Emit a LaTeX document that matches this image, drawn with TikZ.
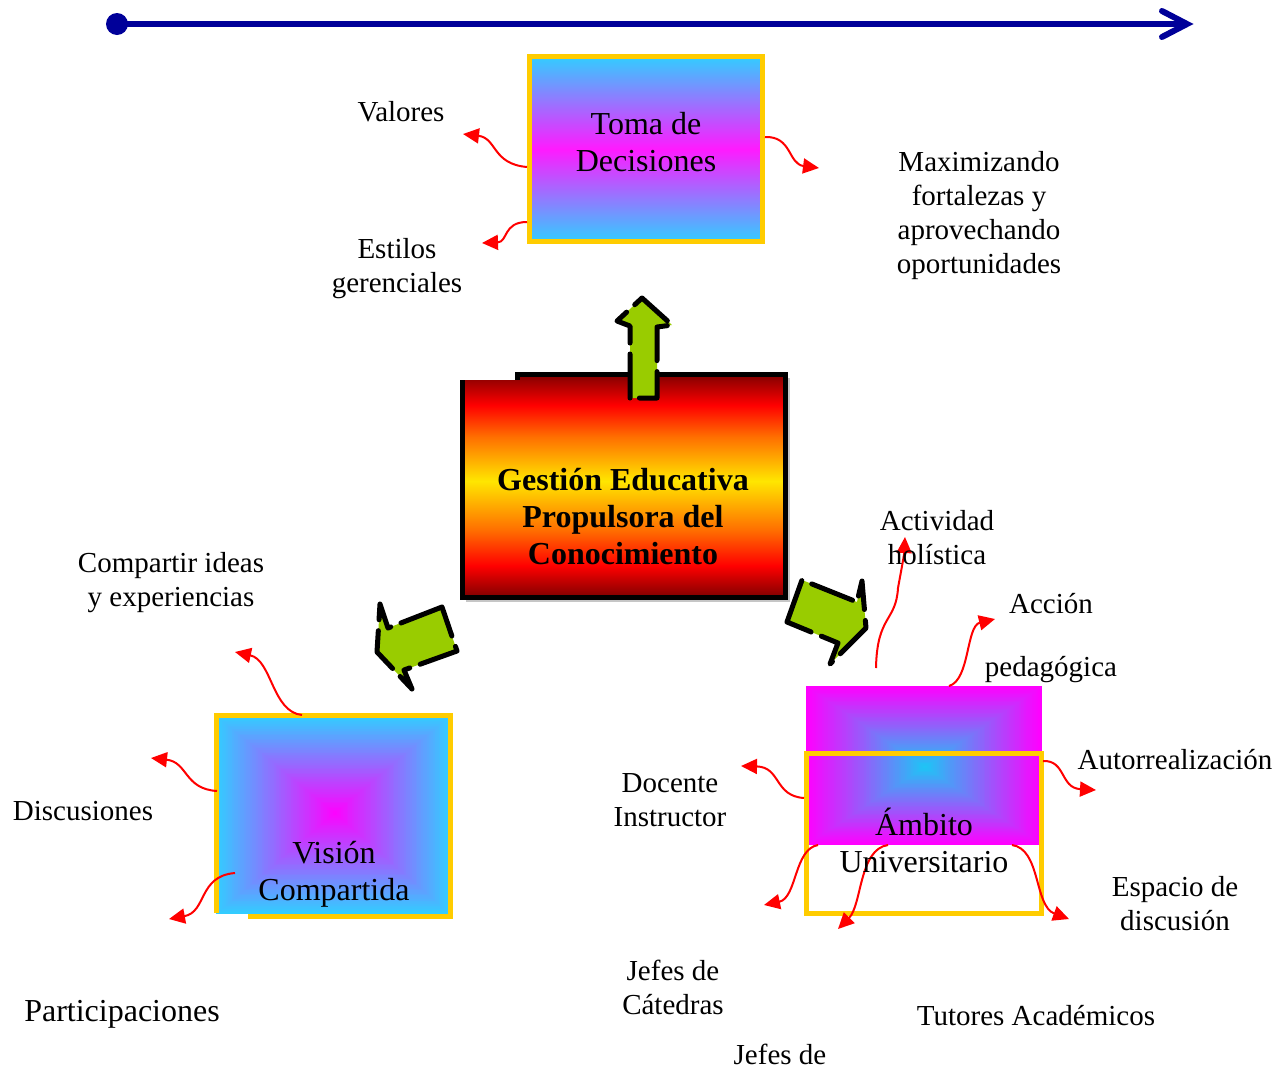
\documentclass[tikz,border=0pt]{standalone}
\usepackage{fontspec}
\setmainfont{Liberation Serif}
\usetikzlibrary{arrows.meta}

\definecolor{navyline}{RGB}{0,0,153}
\definecolor{gold}{RGB}{255,204,0}
\definecolor{skyc}{RGB}{51,204,255}
\definecolor{skyd}{RGB}{26,200,245}
\definecolor{magc}{RGB}{255,0,255}
\definecolor{magt}{RGB}{255,26,255}
\definecolor{leaf}{RGB}{153,204,0}
\definecolor{dkred}{RGB}{128,0,0}
\definecolor{flame}{RGB}{255,0,0}
\definecolor{amber}{RGB}{255,110,0}
\definecolor{sun}{RGB}{255,230,0}

% warm stripes of the central box: dark red - red - orange - yellow - ... - dark red
% (TikZ fits the middle 50bp of a 100bp shading to the path)
\pgfdeclareverticalshading{gestionshade}{100bp}{%
  color(0bp)=(dkred); color(25bp)=(dkred); color(32bp)=(flame); color(40bp)=(amber);
  color(51bp)=(sun); color(61bp)=(amber); color(68bp)=(flame);
  color(75bp)=(dkred); color(100bp)=(dkred)}

\tikzset{
  lbl/.style={font=\fontsize{29}{34}\selectfont, align=center, inner sep=0pt},
  big/.style={font=\fontsize{32}{37}\selectfont, align=center, inner sep=0pt},
  wavy/.style={draw=red, line width=2pt, -{Triangle[length=16pt,width=15pt]}},
  greenarrow/.style={fill=leaf, draw=black, line width=5pt, line cap=round,
    line join=round, dash pattern=on 44pt off 11pt},
  goldframe/.style={draw=gold, line width=5pt},
}

\begin{document}
\begin{tikzpicture}[x=1pt,y=-1pt]
\useasboundingbox[fill=white] (0,0) rectangle (1286,1069);

% ---------- time line ----------
\coordinate (tl0) at (117,24);
\coordinate (tl1) at (1187,24);
\draw[navyline, line width=6pt] (tl0) -- (tl1);
\fill[navyline] (tl0) circle (11);
\draw[navyline, line width=6pt, line cap=round, line join=miter]
  (1162,11) -- (tl1) -- (1162,37);

% ---------- Toma de Decisiones ----------
\fill[top color=skyc, bottom color=skyc, middle color=magt] (530,57) rectangle (762,241);
\draw[goldframe] (529.5,56.5) rectangle (762.5,241.5);

% ---------- central box ----------
\fill[shading=gestionshade] (462,380) -- (517,380) -- (517,374) -- (785,374)
  -- (785,597) -- (462,597) -- cycle;
\draw[gray!45, line width=2pt] (466,600.5) -- (788.5,600.5) -- (788.5,378);
\draw[black, line width=5pt, line join=miter] (462,380) -- (462,597) -- (785,597)
  -- (785,374) -- (517,374) -- (517,380);

% ---------- green arrows ----------
\draw[greenarrow] (630,398) -- (630,326) -- (617,321) -- (642,298) -- (672,325)
  -- (657,327) -- (657,398) -- cycle;
\draw[greenarrow] (442,607) -- (388,628) -- (380,604) -- (377,652) -- (412,689)
  -- (404,670) -- (457,651) -- cycle;
\draw[greenarrow] (787,622) -- (802,580) -- (857,602) -- (862,581) -- (866,628)
  -- (830,664) -- (838,643) -- cycle;

% ---------- Vision Compartida: pyramid gradient ----------
\foreach \i in {0,...,60}{
  \pgfmathsetmacro\t{\i/60}
  \pgfmathtruncatemacro\p{100*\i/60}
  \fill[magc!\p!skyc] ({216+\t*(335-216)},{716+\t*(813-716)})
    rectangle ({450-\t*(450-335)},{914-\t*(914-813)});
}
\draw[goldframe, line join=miter] (248,916.5) -- (450.5,916.5) -- (450.5,715.5)
  -- (216.5,715.5) -- (216.5,913);

% ---------- Ambito Universitario: pyramid gradient ----------
\foreach \i in {0,...,60}{
  \pgfmathsetmacro\t{\i/60}
  \pgfmathtruncatemacro\p{100*\i/60}
  \fill[skyd!\p!magc] ({806+\t*(925-806)},{686+\t*(767-686)})
    rectangle ({1042-\t*(1042-925)},{845-\t*(845-767)});
}
\draw[goldframe] (806.5,753.5) rectangle (1041.5,913.5);

% ---------- end points of the wavy arrows ----------
\coordinate (a1s) at (527,167);  \coordinate (a1e) at (463,134);
\coordinate (a2s) at (527,222);  \coordinate (a2e) at (482,243);
\coordinate (a3s) at (765,137);  \coordinate (a3e) at (819,168);
\coordinate (b1s) at (302,715);  \coordinate (b1e) at (235,652);
\coordinate (b2s) at (217,791);  \coordinate (b2e) at (151,758);
\coordinate (b3s) at (235,873);  \coordinate (b3e) at (169,919);
\coordinate (c1s) at (876,668);  \coordinate (c1m) at (898,588);  \coordinate (c1e) at (905,537);
\coordinate (c2s) at (949,686);  \coordinate (c2e) at (995,619);
\coordinate (c3s) at (1043,761); \coordinate (c3e) at (1096,790);
\coordinate (c4s) at (804,798);  \coordinate (c4e) at (741,766);
\coordinate (c5s) at (818,845);  \coordinate (c5e) at (764,905);
\coordinate (c6s) at (888,845);  \coordinate (c6e) at (838,929);
\coordinate (c7s) at (1012,845); \coordinate (c7e) at (1069,919);

\draw[wavy] (a1s) .. controls (492,164) and (497,138) .. (a1e);
\draw[wavy] (a2s) .. controls (503,222) and (508,242) .. (a2e);
\draw[wavy] (a3s) .. controls (792,136) and (788,164) .. (a3e);

\draw[wavy] (b1s) .. controls (272,712) and (272,660) .. (b1e);
\draw[wavy] (b2s) .. controls (184,789) and (188,762) .. (b2e);
\draw[wavy] (b3s) .. controls (198,876) and (207,912) .. (b3e);

\draw[wavy] (c1s) .. controls (877,615) and (896,622) .. (c1m)
  .. controls (902,566) and (904,556) .. (c1e);
\draw[wavy] (c2s) .. controls (970,680) and (966,626) .. (c2e);
\draw[wavy] (c3s) .. controls (1066,760) and (1060,788) .. (c3e);
\draw[wavy] (c4s) .. controls (774,796) and (781,767) .. (c4e);
\draw[wavy] (c5s) .. controls (794,849) and (797,898) .. (c5e);
\draw[wavy] (c6s) .. controls (859,849) and (862,905) .. (c6e);
\draw[wavy] (c7s) .. controls (1041,849) and (1034,906) .. (c7e);

% ---------- texts ----------
\node[big] (toma) at (646,142) {Toma de\\Decisiones};
\node[big, font=\fontsize{32}{37}\selectfont\bfseries] (gestion) at (623,517)
  {Gestión Educativa\\Propulsora del\\Conocimiento};
\node[big] (vision) at (334,874) {Visión\\Compartida};
\node[big] (ambito) at (924,840) {Ámbito\\Universitario};

\node[lbl] (valores) at (401,112) {Valores};
\node[lbl] (estilos) at (397,269) {Estilos\\gerenciales};
\node[lbl] (maxim) at (979,216) {Maximizando\\fortalezas y\\aprovechando\\oportunidades};
\node[lbl] (compartir) at (171,583) {Compartir ideas\\y experiencias};
\node[lbl] (discus) at (83,811) {Discusiones};
\node[big] (particip) at (122,1014) {Participaciones};
\node[lbl] (activ) at (937,538) {Actividad\\holística};
\node[lbl] (accion) at (1051,604) {Acción};
\node[lbl] (pedag) at (1051,670) {pedagógica};
\node[lbl] (autor) at (1175,760) {Autorrealización};
\node[lbl] (docente) at (670,800) {Docente\\Instructor};
\node[lbl] (espacio) at (1175,904) {Espacio de\\discusión};
\node[lbl] (jefescat) at (673,987) {Jefes de\\Cátedras};
\node[lbl] (tutores) at (1036,1016) {Tutores Académicos};
\node[lbl] (jefes) at (780,1054) {Jefes de};
\end{tikzpicture}
\end{document}
